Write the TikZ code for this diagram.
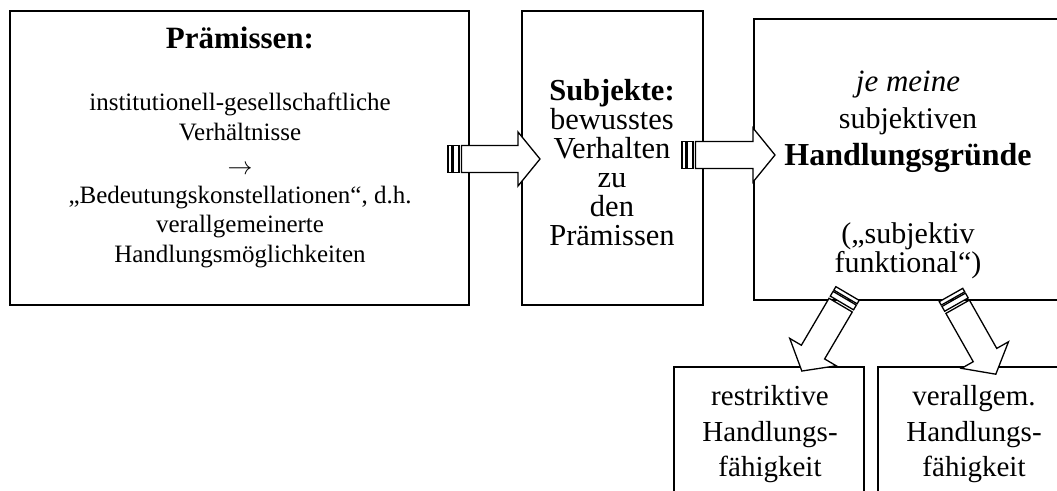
\documentclass[tikz,border=0pt]{standalone}
\usepackage{fontspec}
\setmainfont{Liberation Serif}
\usetikzlibrary{calc}
\newcommand{\myStripedArrow}[1]{%
  \fill[white] (0,-13.5) rectangle (4,13.5);
  \draw[arrline] (0,-13.5) rectangle (4,13.5);
  \draw[arrline] (5.5,-13.5) rectangle (11,13.5);
  \draw[arrline,fill=white] (13.5,-13.5) -- (#1-22,-13.5) -- (#1-22,-27) -- (#1,0)
     -- (#1-22,27) -- (#1-22,13.5) -- (13.5,13.5) -- cycle;}
\begin{document}
\begin{tikzpicture}[x=1pt,y=-1pt,
  box/.style={draw=black,line width=2pt,fill=white,rectangle,inner sep=0pt,outer sep=0pt},
  arrline/.style={draw=black,line width=1.3pt,fill=white,line join=miter},
  ln/.style={anchor=base,inner sep=0pt,outer sep=0pt},
  fa/.style={ln,font=\fontsize{25}{25}\selectfont},
  fatitle/.style={ln,font=\fontsize{31}{31}\selectfont\bfseries},
  fb/.style={ln,font=\fontsize{30.5}{30.5}\selectfont},
  fbbold/.style={ln,font=\fontsize{30.5}{30.5}\selectfont\bfseries},
  fc/.style={ln,font=\fontsize{30}{30}\selectfont},
  fcbold/.style={ln,font=\fontsize{32}{32}\selectfont\bfseries},
  fcit/.style={ln,font=\fontsize{31}{31}\selectfont\itshape},
  fd/.style={ln,font=\fontsize{29}{29}\selectfont}]
\useasboundingbox (0,0) rectangle (1057,490);
\clip (0,0) rectangle (1057,490);
\fill[white] (0,0) rectangle (1057,490);
% boxes
\node[box,minimum width=459pt,minimum height=294pt] (b1) at (239.5,158) {};
\node[box,minimum width=181pt,minimum height=294pt] (b2) at (612.5,158) {};
\node[box,minimum width=308pt,minimum height=281pt] (b3) at (908,159.5) {};
\node[box,minimum width=190pt,minimum height=153pt] (b4) at (769,443.5) {};
\node[box,minimum width=192pt,minimum height=153pt] (b5) at (974,443.5) {};
% block arrows
\begin{scope}[shift={($(b1.east)+(-21,1)$)}]
  \myStripedArrow{92}
\end{scope}
\begin{scope}[shift={($(b2.east)+(-21,-3)$)}]
  \myStripedArrow{93}
\end{scope}
\begin{scope}[shift={($(b3.south)+(-60.5,-6.5)$)},rotate=-120.5]
  \myStripedArrow{90}
\end{scope}
\begin{scope}[shift={($(b3.south)+(43,-5)$)},rotate=-60.5]
  \myStripedArrow{91}
\end{scope}
% texts box 1
\node[fatitle] (t1a) at (240,48) {Prämissen:};
\node[fa] (t1b) at (240,110) {institutionell-gesellschaftliche};
\node[fa] (t1c) at (240,140) {Verhältnisse};
\node[fa] (t1d) at (240,174) {$\rightarrow$};
\node[fa] (t1e) at (240,203) {„Bedeutungskonstellationen“, d.h.};
\node[fa] (t1f) at (240,232) {verallgemeinerte};
\node[fa] (t1g) at (240,262) {Handlungsmöglichkeiten};
% texts box 2
\node[fbbold] (t2a) at (612,100) {Subjekte:};
\node[fb] (t2b) at (612,129) {bewusstes};
\node[fb] (t2c) at (612,158) {Verhalten};
\node[fb] (t2d) at (612,187) {zu};
\node[fb] (t2e) at (612,216) {den};
\node[fb] (t2f) at (612,245) {Prämissen};
% texts box 3
\node[fcit] (t3a) at (908,91) {je meine};
\node[fc] (t3b) at (908,128) {subjektiven};
\node[fcbold] (t3c) at (908,165) {Handlungsgründe};
\node[fc] (t3d) at (908,243) {(„subjektiv};
\node[fc] (t3e) at (908,272) {funktional“)};
% bottom boxes
\node[fd] (t4a) at (770,405) {restriktive};
\node[fd] (t4b) at (770,441) {Handlungs-};
\node[fd] (t4c) at (770,476) {fähigkeit};
\node[fd] (t5a) at (974,405) {verallgem.};
\node[fd] (t5b) at (974,441) {Handlungs-};
\node[fd] (t5c) at (974,476) {fähigkeit};
\end{tikzpicture}
\end{document}
